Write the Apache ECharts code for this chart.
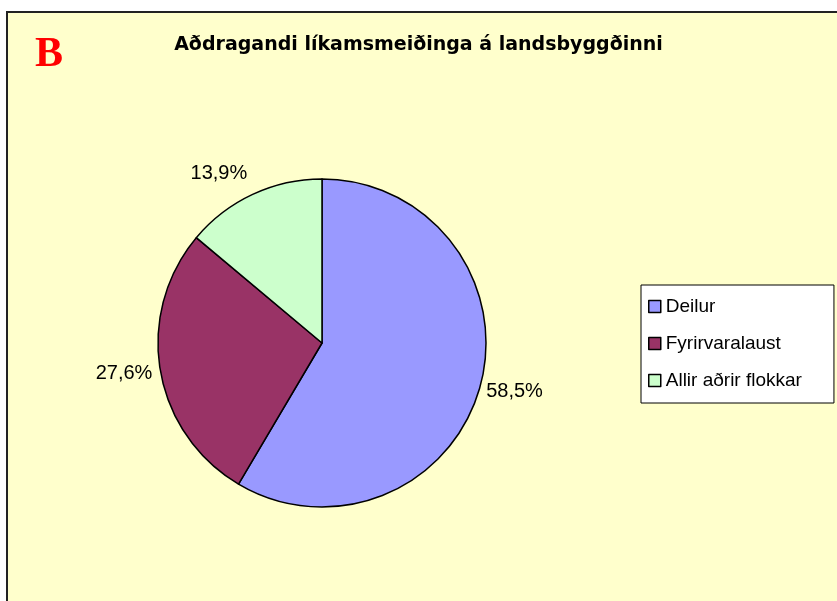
<!DOCTYPE html>
<html>
<head>
<meta charset="utf-8">
<script src="https://cdn.jsdelivr.net/npm/echarts@6/dist/echarts.min.js"></script>
<style>
html,body{margin:0;padding:0;background:#fff;}
#chart{width:837px;height:601px;}
</style>
</head>
<body>
<div id="chart"></div>
<script>
const chartTitle = 'Aðdragandi líkamsmeiðinga á landsbyggðinni';
const panelLetter = 'B';
const categories = ['Deilur', 'Fyrirvaralaust', 'Allir aðrir flokkar'];
const values = [58.5, 27.6, 13.9];
const colors = ['#9999FF', '#993366', '#CCFFCC'];

const chart = echarts.init(document.getElementById('chart'), null, {renderer: 'canvas'});
const labelNudge = [[0, 5], [-2, 3], [0, -20]];

chart.setOption({
  backgroundColor: '#ffffff',
  animation: false,
  graphic: [{
    type: 'rect',
    z: -10,
    shape: {x: 7, y: 12, width: 1000, height: 1000},
    style: {fill: '#FFFFCC', stroke: '#222222', lineWidth: 2}
  }],
  title: [{
    text: chartTitle,
    left: 'center',
    top: 36,
    padding: [0, 0, 0, 6],
    textStyle: {fontFamily: 'DejaVu Sans', fontWeight: 'bold', fontSize: 19, color: '#000'}
  }, {
    text: panelLetter,
    left: 35,
    top: 34,
    padding: 0,
    textStyle: {fontFamily: 'Liberation Serif', fontWeight: 'bold', fontSize: 42, color: '#FF0000'}
  }],
  legend: {
    orient: 'vertical',
    left: 641,
    top: 285,
    padding: [12, 32, 13, 7],
    itemGap: 18,
    itemWidth: 12,
    itemHeight: 12,
    icon: 'rect',
    backgroundColor: '#FFFFFF',
    borderColor: '#000000',
    borderWidth: 1,
    borderRadius: 0,
    itemStyle: {borderColor: '#000', borderWidth: 1.5},
    textStyle: {fontFamily: 'Liberation Sans', fontSize: 19, color: '#000', padding: [0, 0, 0, 0]},
    data: categories
  },
  series: [{
    type: 'pie',
    center: [322, 343],
    radius: 164,
    startAngle: 90,
    clockwise: true,
    silent: true,
    itemStyle: {borderColor: '#000', borderWidth: 1.5},
    label: {
      show: true,
      position: 'outside',
      distanceToLabelLine: 5,
      fontFamily: 'Liberation Sans',
      fontSize: 20,
      color: '#000',
      formatter: p => p.value.toFixed(1).replace('.', ',') + '%'
    },
    labelLine: {show: false, length: 1, length2: 0},
    labelLayout: p => ({dx: labelNudge[p.dataIndex][0], dy: labelNudge[p.dataIndex][1]}),
    data: categories.map((c, i) => ({name: c, value: values[i], itemStyle: {color: colors[i]}}))
  }]
});
</script>
</body>
</html>
